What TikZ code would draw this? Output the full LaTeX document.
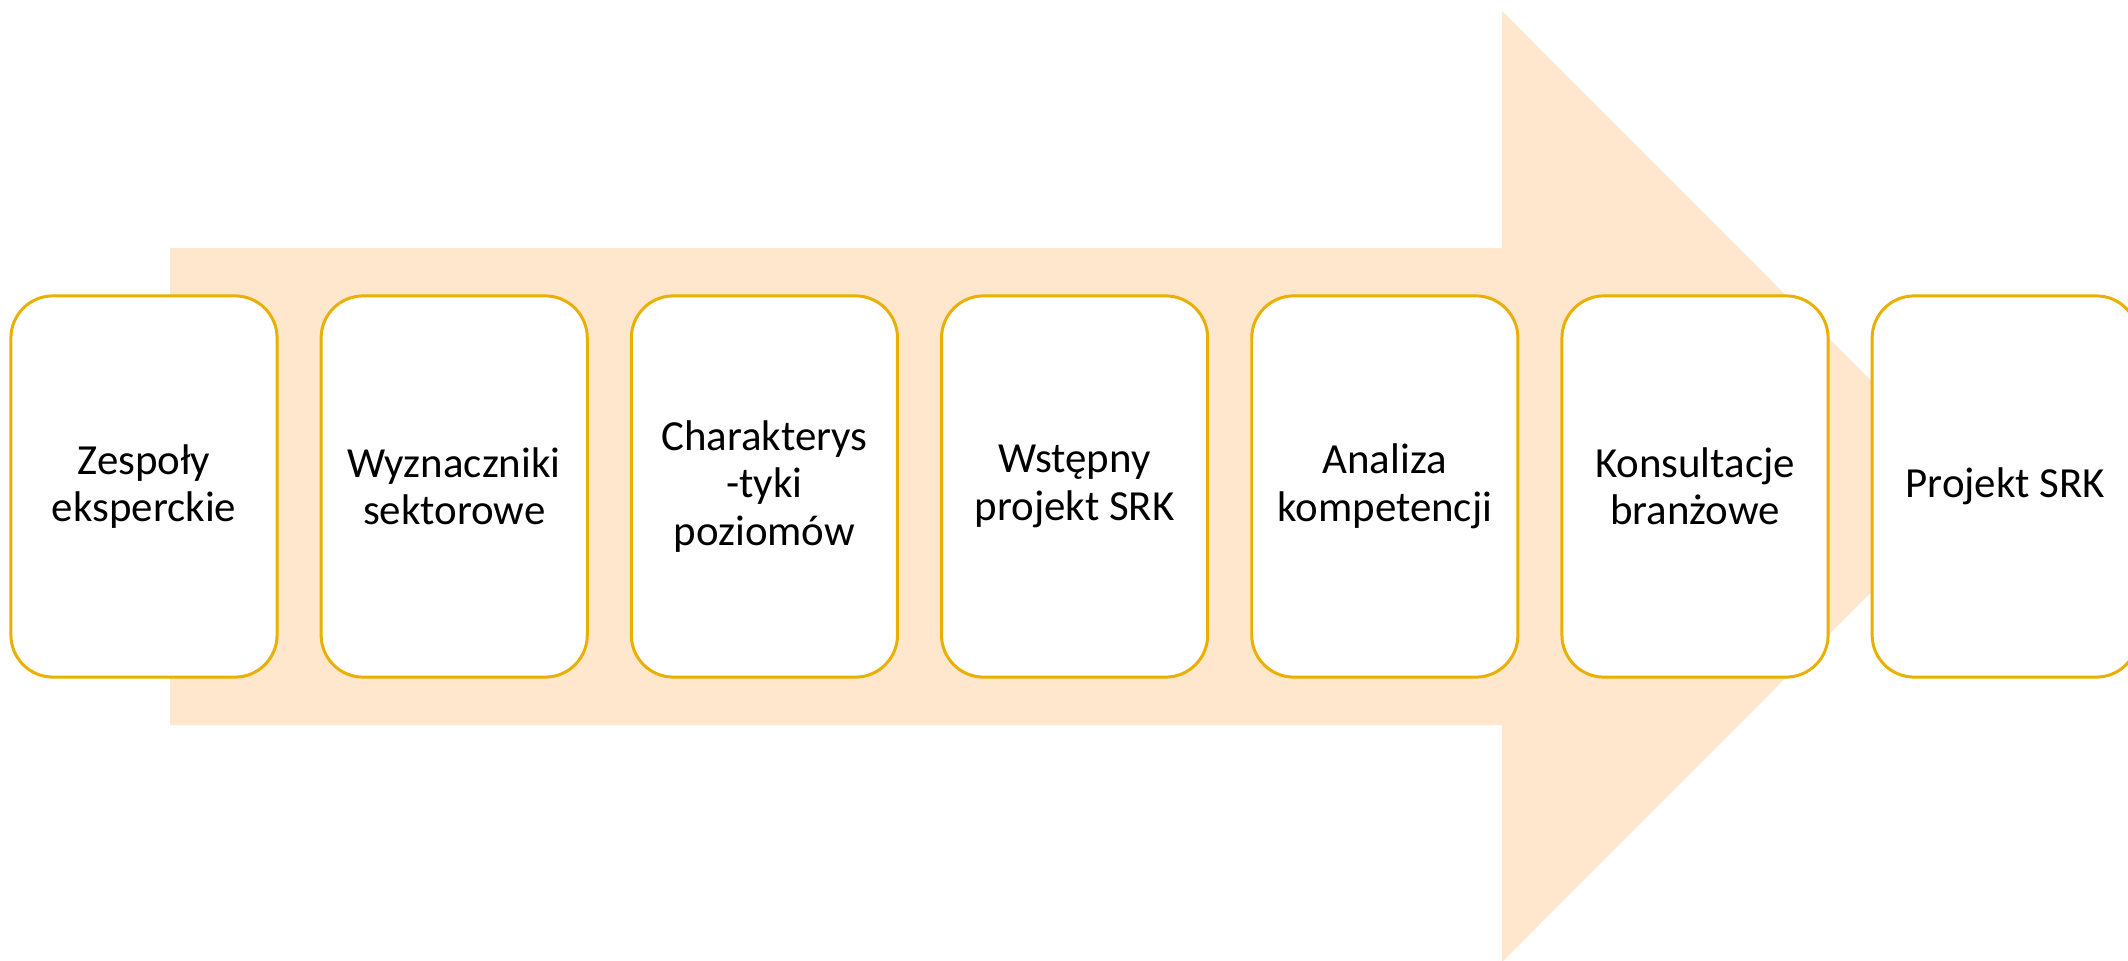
\documentclass[tikz,border=0pt]{standalone}
\usepackage{fontspec}
\setmainfont{Carlito}
\usepackage{tikz}
\definecolor{peach}{RGB}{254,231,205}
\definecolor{gold}{RGB}{233,176,0}

\begin{document}
\begin{tikzpicture}[x=0.01cm,y=-0.01cm]
    \def\dx{310.2}
    \def\dy{486.5}

    \useasboundingbox (0,0) rectangle (2128,961);

    \tikzstyle{stage}=[draw=gold,line width=0.85pt,fill=white,rounded corners=0.42cm,minimum width=2.66cm,minimum height=3.81cm,inner sep=0pt,align=center,font=\fontsize{12.2}{13.5}\selectfont]

    % the big arrow behind the boxes
    \fill[peach] (170,248) -- (1502,248) -- (1502,11) -- (1977,\dy) -- (1502,962) -- (1502,725) -- (170,725) -- cycle;

    \node[stage]  (team) at (144+0*\dx,\dy) {Zespoły\\eksperckie};
    \node[stage]  (sect) at (144+1*\dx,\dy) {Wyznaczniki\\sektorowe};
    \node[stage]  (levl) at (144+2*\dx,\dy) {Charakterys\\-tyki\\poziomów};
    \node[stage]  (draft) at (144+3*\dx,\dy) {Wstępny\\projekt SRK};
    \node[stage]  (comp) at (144+4*\dx,\dy) {Analiza\\kompetencji};
    \node[stage]  (cons) at (144+5*\dx,\dy) {Konsultacje\\branżowe};
    \node[stage]  (proj) at (144+6*\dx,\dy) {Projekt SRK};

\end{tikzpicture}
\end{document}
